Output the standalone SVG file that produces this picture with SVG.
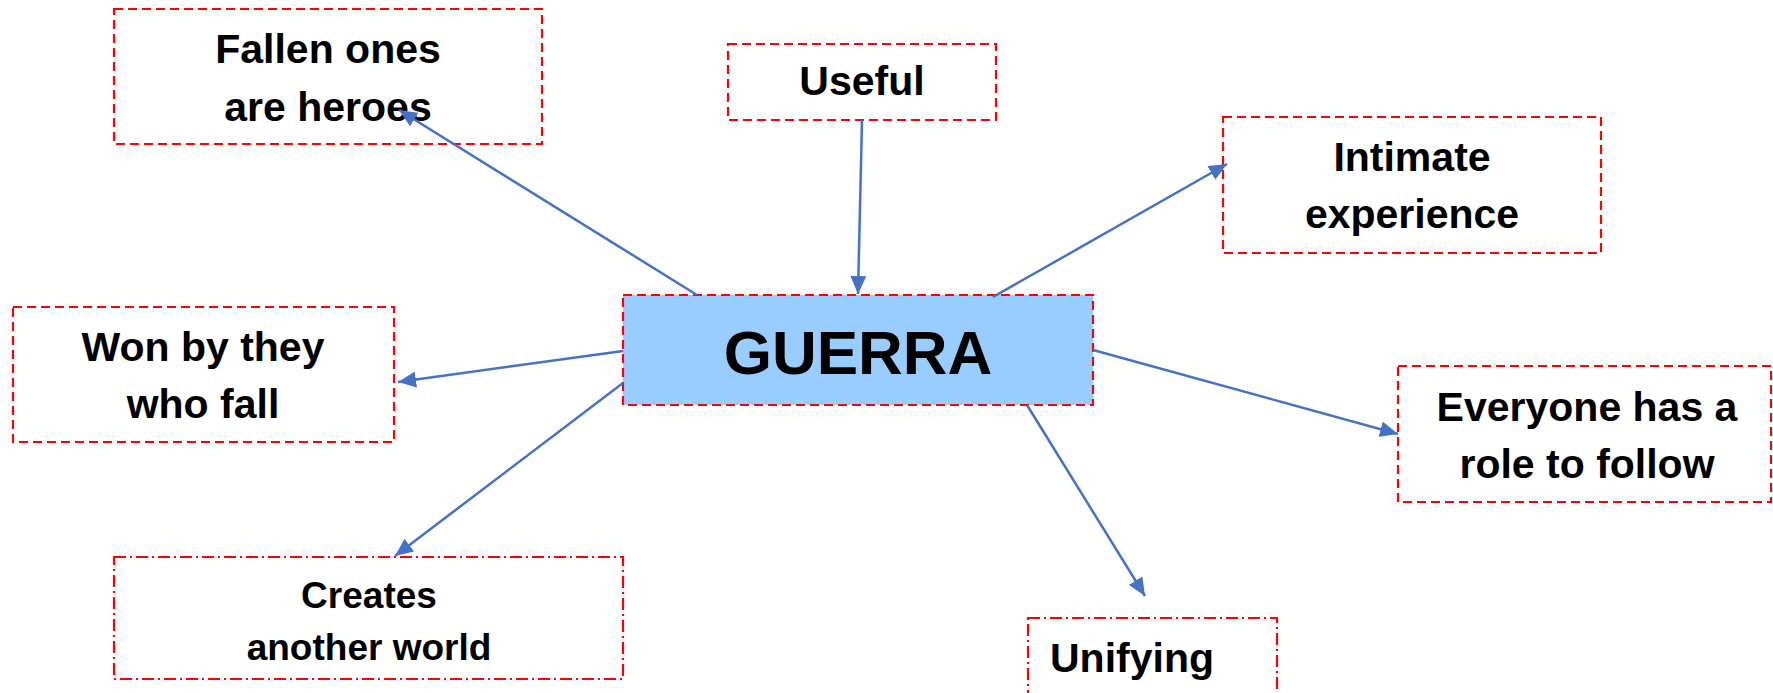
<svg xmlns="http://www.w3.org/2000/svg" width="1773" height="693" viewBox="0 0 1773 693">
<style>
.box{fill:#fff;stroke:#ff0000;stroke-width:2.2;stroke-dasharray:9 5}
.dd{fill:#fff;stroke:#ff0000;stroke-width:2.2;stroke-dasharray:12 4 2 4}
.main{fill:#99ccff;stroke:#ff0000;stroke-width:2.2;stroke-dasharray:9 5}
.t{font-family:"Liberation Sans",Arial,sans-serif;font-weight:bold;font-size:41px;fill:#000;text-anchor:middle}
.s{font-size:37px}
.big{font-size:62px}
.c{stroke:#4472c4;stroke-width:2.5;fill:none;marker-end:url(#ah)}
</style>
<defs>
<marker id="ah" markerUnits="userSpaceOnUse" markerWidth="19" markerHeight="16" refX="18" refY="8" orient="auto">
<path d="M0,0 L18,8 L0,16 z" fill="#4472c4"/>
</marker>
</defs>
<rect width="1773" height="693" fill="#fff"/>
<g id="fallen"><rect class="box" x="114" y="9" width="428" height="135"/><text class="t" x="328" y="63">Fallen ones</text><text class="t" x="328" y="121">are heroes</text></g>
<g id="useful"><rect class="box" x="728" y="44" width="268" height="76"/><text class="t" x="862" y="95">Useful</text></g>
<g id="intimate"><rect class="box" x="1223" y="117" width="378" height="136"/><text class="t" x="1412" y="171">Intimate</text><text class="t" x="1412" y="228">experience</text></g>
<g id="won"><rect class="box" x="13" y="307" width="381" height="135"/><text class="t" x="203" y="361">Won by they</text><text class="t" x="203" y="418">who fall</text></g>
<g id="guerra"><rect class="main" x="623" y="295" width="470" height="110"/><text class="t big" x="858" y="374">GUERRA</text></g>
<g id="everyone"><rect class="box" x="1398" y="366" width="373" height="136"/><text class="t" x="1587" y="421">Everyone has a</text><text class="t" x="1587" y="478">role to follow</text></g>
<g id="creates"><rect class="dd" x="114" y="557" width="509" height="122"/><text class="t s" x="369" y="608">Creates</text><text class="t s" x="369" y="660">another world</text></g>
<g id="unifying"><rect class="dd" x="1028" y="618" width="249" height="90"/><text class="t" x="1050" y="672" style="text-anchor:start">Unifying</text></g>
<g id="connectors">
<line class="c" x1="697" y1="295" x2="399" y2="110"/>
<line class="c" x1="862" y1="120" x2="858" y2="294"/>
<line class="c" x1="993" y1="297" x2="1227" y2="164"/>
<line class="c" x1="623" y1="351" x2="398" y2="382"/>
<line class="c" x1="623" y1="383" x2="395" y2="556"/>
<line class="c" x1="1093" y1="350" x2="1398" y2="434"/>
<line class="c" x1="1027" y1="405" x2="1145" y2="596"/>
</g>
</svg>
